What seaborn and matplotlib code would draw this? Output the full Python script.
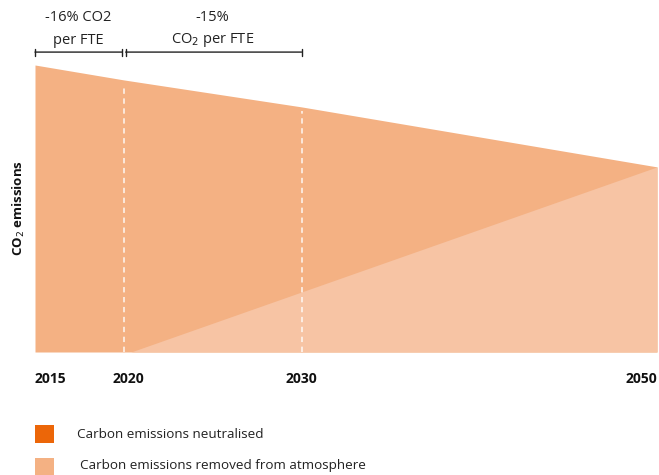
import matplotlib
matplotlib.use("Agg")
import matplotlib.pyplot as plt
import matplotlib.transforms as mtransforms
import seaborn as sns
import pandas as pd

# Emission pathway (index, 2015 = 100)
years = [2015, 2020, 2030, 2050]
emissions = [100, 94.8, 85.4, 64.5]
# Emissions removed from the atmosphere
removal_years = [2020.4, 2050]
removal = [0, 64.5]
tick_years = [2015, 2020, 2030, 2050]
milestones = [2020, 2030]

legend_labels = ["Carbon emissions neutralised", "Carbon emissions removed from atmosphere"]

c_total = "#F4B183"
c_removed = "#F7C4A4"
c_neutral = "#EC6608"
c_text = "#222222"

sns.set_theme(style="white")
plt.rcParams["font.family"] = ["Open Sans", "DejaVu Sans"]

fig = plt.figure(figsize=(6.59, 4.75), dpi=100)
W, H = 659, 475
ax = fig.add_axes([35 / W, 1 - 352 / H, (657 - 35) / W, (352 - 65) / H])

df = pd.DataFrame({"year": years, "emissions": emissions})
sns.lineplot(data=df, x="year", y="emissions", ax=ax, color=c_total, linewidth=0)
ax.fill_between(years, 0, emissions, color=c_total, linewidth=0)
ax.fill_between(removal_years, 0, removal, color=c_removed, linewidth=0)

for m in milestones:
    top = emissions[years.index(m)]
    ax.plot([m, m], [0, top - 1.5], color="white", linestyle=(0, (3.5, 3)), linewidth=1.1, alpha=0.9)

ax.set_xlim(2015, 2050)
ax.set_ylim(0, 100)
for s in ax.spines.values():
    s.set_visible(False)
ax.set_yticks([])
ax.set_xticks([])
ax.set_xlabel("")
ax.set_ylabel("CO$_2$ emissions", fontweight="bold", fontsize=9.5, color="#111111", labelpad=6)

# Year labels below the chart
xlab_tr = mtransforms.blended_transform_factory(ax.transData, fig.transFigure)
aligns = {2015: ("left", 0), 2020: ("center", 5), 2030: ("center", 0), 2050: ("right", 0)}
for y in tick_years:
    ha, dx = aligns[y]
    t = xlab_tr + mtransforms.ScaledTranslation(dx / 100, 0, fig.dpi_scale_trans)
    ax.text(y, 1 - 379 / H, str(y), transform=t, ha=ha, va="center",
            fontweight="bold", fontsize=10, color="#111111", clip_on=False)

# Reduction brackets above the chart
def bracket(x0, x1, y):
    ax.annotate("", xy=(x0, y), xytext=(x1, y), xycoords="data",
                arrowprops=dict(arrowstyle="|-|", color=c_text, lw=1,
                                mutation_scale=2.5, shrinkA=0, shrinkB=0),
                annotation_clip=False)

bracket(2015, 2019.9, 104.5)
bracket(2020.1, 2030, 104.5)
ax.text(2017.45, 116.6, "-16% CO2", ha="center", va="center", fontsize=10.5, color=c_text, clip_on=False)
ax.text(2017.45, 108.6, "per FTE", ha="center", va="center", fontsize=10.5, color=c_text, clip_on=False)
ax.text(2025.0, 116.6, "-15%", ha="center", va="center", fontsize=10.5, color=c_text, clip_on=False)
ax.text(2025.0, 108.6, "CO$_2$ per FTE", ha="center", va="center", fontsize=10.5, color=c_text, clip_on=False)

# Legend
fig.patches.append(plt.Rectangle((35 / W, 1 - 443 / H), 19 / W, 18 / H, transform=fig.transFigure,
                                 color=c_neutral, linewidth=0))
fig.patches.append(plt.Rectangle((35 / W, 1 - 476 / H), 19 / W, 18 / H, transform=fig.transFigure,
                                 color=c_total, linewidth=0))
fig.text(77 / W, 1 - 434 / H, legend_labels[0], va="center", fontsize=9.7, color=c_text)
fig.text(80 / W, 1 - 466 / H, legend_labels[1], va="center", fontsize=9.7, color=c_text)

fig.savefig("out.png", dpi=100)
